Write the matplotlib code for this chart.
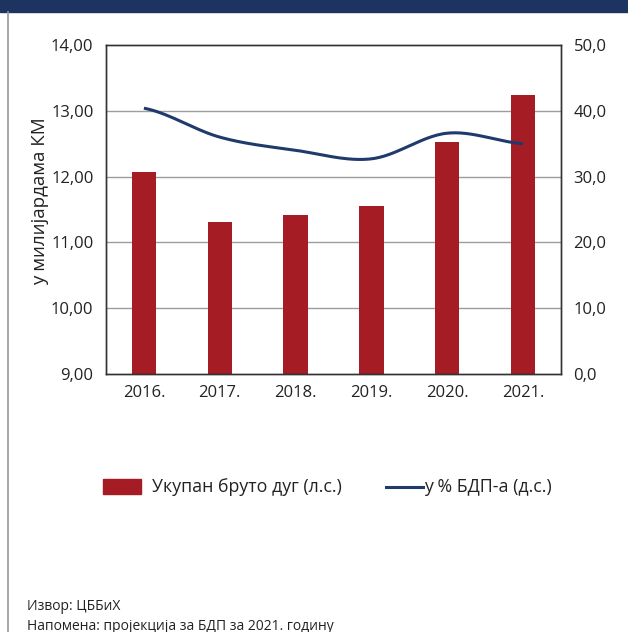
import numpy as np
import matplotlib
matplotlib.use('Agg')
import matplotlib.pyplot as plt
from matplotlib.patches import Rectangle
from matplotlib.lines import Line2D

plt.rcParams['font.family'] = ['Open Sans', 'DejaVu Sans']

years = ['2016.', '2017.', '2018.', '2019.', '2020.', '2021.']
debt = [12.07, 11.31, 11.42, 11.55, 12.53, 13.24]       # у милијардама КМ (л.с.)
pct_gdp = [40.4, 36.0, 34.0, 32.7, 36.6, 35.0]           # у % БДП-а (д.с.)

bar_color = '#a51c24'
line_color = '#1f3a6b'
navy = '#1d3461'


def smooth(xs, ys, n=30):
    # catmull-rom style smoothing like the spreadsheet curve
    xs = np.asarray(xs, float)
    ys = np.asarray(ys, float)
    px = np.concatenate([[2 * xs[0] - xs[1]], xs, [2 * xs[-1] - xs[-2]]])
    py = np.concatenate([[ys[0]], ys, [ys[-1]]])
    outx, outy = [], []
    for i in range(1, len(px) - 2):
        t = np.linspace(0, 1, n)
        for arr, out in ((px, outx), (py, outy)):
            p0, p1, p2, p3 = arr[i - 1], arr[i], arr[i + 1], arr[i + 2]
            c1 = p1 + (p2 - p0) / 6
            c2 = p2 - (p3 - p1) / 6
            out.extend((1 - t) ** 3 * p1 + 3 * (1 - t) ** 2 * t * c1
                       + 3 * (1 - t) * t ** 2 * c2 + t ** 3 * p2)
    return outx, outy


fig = plt.figure(figsize=(6.28, 6.32), dpi=100)

# top band and left border
fig.patches.append(Rectangle((0, 1 - 12 / 632), 1, 12 / 632, transform=fig.transFigure,
                             color=navy, zorder=0))
fig.lines.append(Line2D([8 / 628, 8 / 628], [0, 1 - 12 / 632], transform=fig.transFigure,
                        color='#9a9a9a', lw=1.2))

ax = fig.add_axes([106 / 628, 1 - 374 / 632, 455 / 628, 329 / 632])
x = np.arange(len(years))
ax.bar(x, [d - 9 for d in debt], bottom=9, width=0.32, color=bar_color, zorder=2)
ax.set_xlim(-0.5, len(years) - 0.5)
ax.set_ylim(9, 14)
ax.set_yticks(np.arange(9, 14.01, 1))
ax.set_yticklabels([f'{v:.2f}'.replace('.', ',') for v in np.arange(9, 14.01, 1)])
ax.set_xticks(x)
ax.set_xticklabels(years)
ax.tick_params(length=0, labelsize=12, colors='#222222', pad=9)
ax.tick_params(axis='x', pad=8)
for yv in [10, 11, 12, 13]:
    ax.axhline(yv, color='#9d9d9d', lw=1, zorder=1)
for s in ax.spines.values():
    s.set_color('#333333')
    s.set_linewidth(1)
ax.set_ylabel('у милијардама КМ', fontsize=13.5, color='#222222', va='center')
ax.yaxis.set_label_coords(-66 / 455, 173 / 329)

ax2 = ax.twinx()
sx, sy = smooth(x, pct_gdp)
ax2.plot(sx, sy, color=line_color, lw=2.2, solid_capstyle='butt')
ax2.set_ylim(0, 50)
ax2.set_yticks(np.arange(0, 50.1, 10))
ax2.set_yticklabels([f'{v:.1f}'.replace('.', ',') for v in np.arange(0, 50.1, 10)])
ax2.tick_params(length=0, labelsize=12, colors='#222222', pad=9)
for s in ax2.spines.values():
    s.set_color('#333333')
    s.set_linewidth(1)

# legend
fig.patches.append(Rectangle((103 / 628, 1 - 494 / 632), 38 / 628, 15 / 632,
                             transform=fig.transFigure, color=bar_color))
fig.text(152 / 628, 1 - 487 / 632, 'Укупан бруто дуг (л.с.)', fontsize=12.8,
         va='center', color='#222222')
fig.lines.append(Line2D([386 / 628, 423 / 628], [1 - 487 / 632, 1 - 487 / 632],
                        transform=fig.transFigure, color=line_color, lw=2.2))
fig.text(424 / 628, 1 - 487 / 632, 'у % БДП-а (д.с.)', fontsize=12.8,
         va='center', color='#222222')

# notes
fig.text(27 / 628, 1 - 606 / 632, 'Извор: ЦББиХ', fontsize=10, va='center', color='#222222')
fig.text(27 / 628, 1 - 626 / 632, 'Напомена: пројекција за БДП за 2021. годину', fontsize=10,
         va='center', color='#222222')

fig.savefig('out.png', dpi=100)
